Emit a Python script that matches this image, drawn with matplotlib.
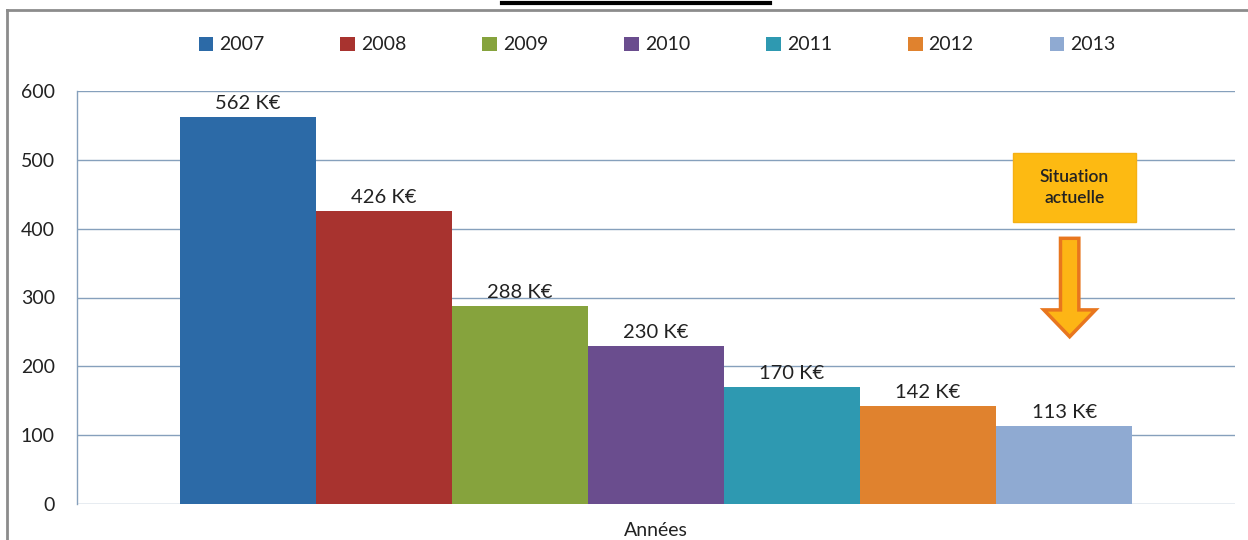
import numpy as np
import matplotlib.pyplot as plt
from matplotlib.patches import Rectangle, FancyArrow
from matplotlib.lines import Line2D

plt.rcParams.update({
    "font.family": ["Lato", "DejaVu Sans"],
    "figure.facecolor": "white",
})

# Data
years = ["2007", "2008", "2009", "2010", "2011", "2012", "2013"]
values = [562, 426, 288, 230, 170, 142, 113]
value_labels = ["562 K€", "426 K€", "288 K€", "230 K€", "170 K€", "142 K€", "113 K€"]
colors = ["#2C6AA7", "#A8332F", "#86A33D", "#6A4D8E", "#2E99B1", "#E0822E", "#8FAAD2"]
yticks = [0, 100, 200, 300, 400, 500, 600]
xlabel = "Années"
note = "Situation\nactuelle"

fig = plt.figure(figsize=(12.48, 5.4), dpi=100)
W, H = 1248, 540
ax = fig.add_axes([77 / W, 1 - 504 / H, (1235 - 77) / W, (504 - 91) / H])

grid_color = "#86A0BC"
text_color = "#222222"
x = np.arange(len(years))
for i in range(len(years)):
    ax.bar(x[i], values[i], width=1.0, color=colors[i], label=years[i], zorder=3)
    ax.text(x[i], values[i] + 7, value_labels[i], ha="center", va="bottom",
            fontsize=14.5, color=text_color, zorder=4)

ax.set_xlim(-1.255, 7.255)
ax.set_ylim(0, 600)
ax.set_yticks(yticks)
ax.set_yticklabels([str(t) for t in yticks], fontsize=14, color=text_color)
ax.tick_params(axis="y", length=0, pad=16)
ax.set_xticks([])
ax.grid(axis="y", color=grid_color, linewidth=1.0, zorder=0)
for side in ["top", "right", "bottom"]:
    ax.spines[side].set_visible(False)
ax.spines["left"].set_color(grid_color)
ax.spines["left"].set_linewidth(1.0)
ax.set_xlabel(xlabel, fontsize=14, color=text_color, labelpad=13)

# Note box and arrow
ax.add_patch(Rectangle((5.62, 410), 0.91, 100, facecolor="#FDBA12", edgecolor="#F5B013",
                       linewidth=1, zorder=5))
ax.text(6.075, 460, note, ha="center", va="center", fontsize=12.5, color=text_color,
        fontweight="semibold", linespacing=1.35, zorder=6)
ax.add_artist(FancyArrow(6.04, 386, 0, -143, width=0.135, head_width=0.38,
                         head_length=39, length_includes_head=True,
                         facecolor="#FDB515", edgecolor="#E8761E", linewidth=2.5, zorder=5))

# Legend
handles, labels = ax.get_legend_handles_labels()
fig.legend(handles, labels, loc="center", bbox_to_anchor=(657 / W, 1 - 45 / H), ncol=7,
           frameon=False, fontsize=14, handlelength=0.75, handleheight=0.75,
           handletextpad=0.3, columnspacing=3.92, labelcolor=text_color)

# Outer frame and clipped title underline
fig.add_artist(Line2D([7 / W, 7 / W], [0, 1 - 10 / H], color="#8C8C8C", linewidth=2))
fig.add_artist(Line2D([7 / W, 1], [1 - 10 / H, 1 - 10 / H], color="#8C8C8C", linewidth=2))
fig.add_artist(Line2D([502 / W, 770 / W], [1 - 3 / H, 1 - 3 / H], color="black", linewidth=3))

fig.savefig("out.png", dpi=100)
